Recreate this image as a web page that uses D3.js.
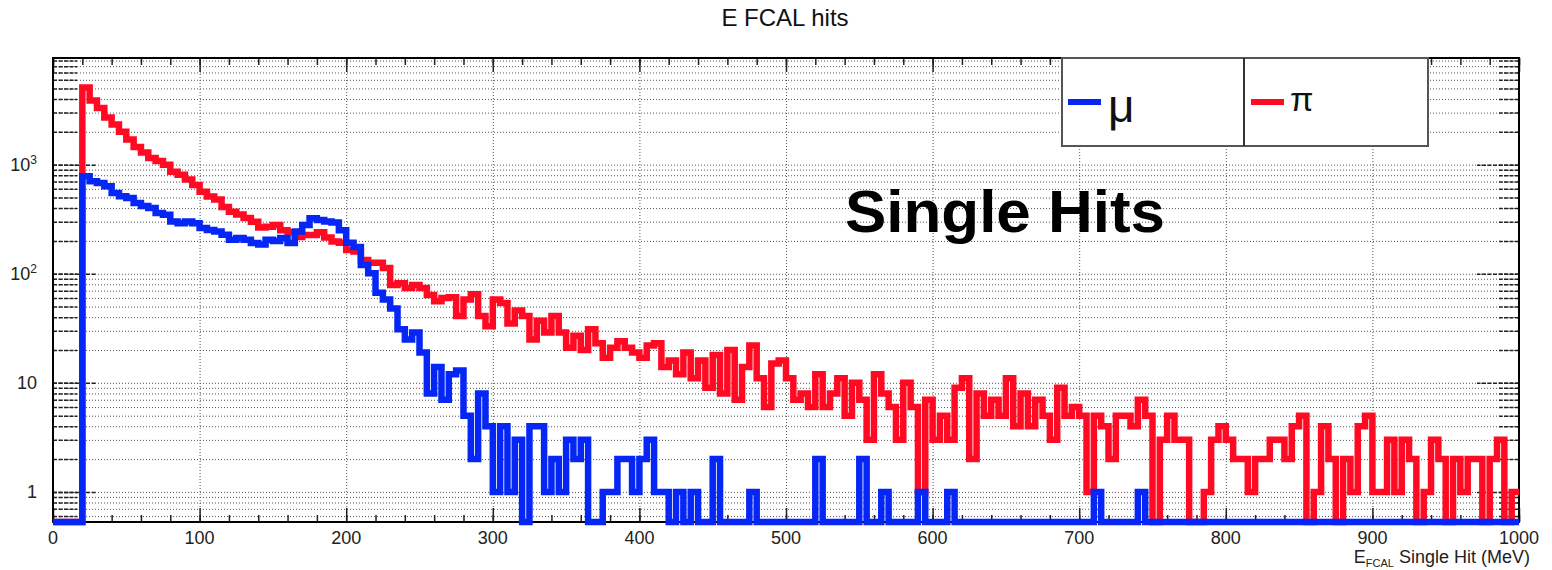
<!DOCTYPE html>
<html>
<head>
<meta charset="utf-8">
<script src="https://cdn.jsdelivr.net/npm/d3@7"></script>
<style>
  html, body { margin: 0; padding: 0; background: #fff; }
  svg { display: block; }
  text { font-family: "Liberation Sans", Arial, Helvetica, sans-serif; }
</style>
</head>
<body>
<svg id="chart" width="1552" height="570"></svg>
<script>
// ---------------- data ----------------
const binWidth = 5;          // MeV per bin
const xDomain = [0, 1000];
const yDomain = [0.53, 9500];
const xTickLabels = ["0","100","200","300","400","500","600","700","800","900","1000"];
const yTickValues = [1, 10, 100, 1000];
const yTickLabels = [["1",""],["10",""],["10","2"],["10","3"]];
const seriesNames = ["\u03bc", "\u03c0"];

// pi (red) counts per 5 MeV bin, 0..1000 MeV
const piCounts = [
  0,0,0,0,5100,3870,3300,2700,2340,2000,
  1700,1450,1290,1150,1080,1000,860,810,730,650,
  565,510,480,410,370,350,325,300,265,270,
  280,250,240,217,227,227,240,215,198,192,
  165,160,134,126,126,113,79,82,74,79,
  74,64,56,60,61,41,58,65,41,33,
  58,54,35,46,41,25,37,29,41,29,
  21,27,20,31,23,17,21,24,21,19,
  17,22,23,14,16,12,19,11,16,9,
  18,8,20,7,14,22,11,6,15,16,
  11,7,8,6,12,6,8,11,5,10,
  7,3,12,8,6,3,10,6,1,7,
  3,5,3,9,11,2,8,5,7,5,
  11,4,8,4,7,5,3,9,5,6,
  5,1,5,4,2,5,5,4,7,5,
  0,3,5,3,3,0,0,1,3,4,
  3,2,2,1,2,2,3,3,2,4,
  5,0,1,4,2,0,2,1,4,5,
  1,1,3,1,3,2,0,1,3,2,
  0,2,1,2,2,0,2,3,0,1
];

// mu (blue) counts per 5 MeV bin, 0..1000 MeV
const muCounts = [
  0,0,0,0,781,703,679,633,550,512,
  495,445,418,401,361,348,302,290,302,290,
  262,252,244,228,205,213,205,191,185,205,
  200,213,191,244,280,322,311,302,295,250,
  192,176,120,101,67,58,48,31,25,29,
  19,8,14,7,12,13,5,2,8,4,
  1,4,1,3,0,4,4,1,2,1,
  3,2,3,0,0,1,1,2,2,1,
  2,3,1,1,0,1,0,1,0,0,
  2,0,0,0,0,1,0,0,0,0,
  0,0,0,0,2,0,0,0,0,0,
  2,0,0,1,0,0,0,0,1,0,
  0,0,1,0,0,0,0,0,0,0,
  0,0,0,0,0,0,0,0,0,0,
  0,0,1,0,0,0,0,0,1,0,
  0,0,0,0,0,0,0,0,0,0,
  0,0,0,0,0,0,0,0,0,0,
  0,0,0,0,0,0,0,0,0,0,
  0,0,0,0,0,0,0,0,0,0,
  0,0,0,0,0,0,0,0,0,0
];

// ---------------- layout ----------------
const svg = d3.select("#chart");
const L = 53, R = 1519, T = 58, B = 522;
const x = d3.scaleLinear().domain(xDomain).range([L, R]);
const y = d3.scaleLog().domain(yDomain).range([B, T]);

// minor log values inside the domain
const logMinor = [];
for (let e = -1; e <= 3; e++) {
  for (let m = 1; m <= 9; m++) {
    const v = m * Math.pow(10, e);
    if (v >= yDomain[0] && v <= yDomain[1]) logMinor.push(v);
  }
}
const xMajor = d3.range(100, 1000, 100);
const xMinor = d3.range(0, 1001, 20);

// ---------------- grid ----------------
const grid = svg.append("g");
grid.append("g").attr("transform", `translate(${L},0)`)
  .call(d3.axisLeft(y).tickValues(logMinor).tickSize(-(R - L)).tickFormat(""))
  .call(g => g.select(".domain").remove())
  .selectAll("line").attr("stroke", "#555").attr("stroke-width", 1).attr("stroke-dasharray", "1,2");
grid.append("g").attr("transform", `translate(0,${B})`)
  .call(d3.axisBottom(x).tickValues(xMajor).tickSize(-(B - T)).tickFormat(""))
  .call(g => g.select(".domain").remove())
  .selectAll("line").attr("stroke", "#555").attr("stroke-width", 1).attr("stroke-dasharray", "1,2");

// ---------------- axes ticks ----------------
function tickStyle(sel) {
  sel.select(".domain").remove();
  sel.selectAll("line").attr("stroke", "#222").attr("stroke-width", 1.5);
}
// left minor/major ticks (inside)
svg.append("g").attr("transform", `translate(${L},0)`)
  .call(d3.axisLeft(y).tickValues(logMinor).tickSize(-24).tickFormat(""))
  .call(tickStyle).selectAll("line").attr("stroke-dasharray", "4,1.5");
svg.append("g").attr("transform", `translate(${L},0)`)
  .call(d3.axisLeft(y).tickValues(yTickValues).tickSize(-44).tickFormat(""))
  .call(tickStyle).selectAll("line").attr("stroke-dasharray", "4,1.5");
// right ticks
svg.append("g").attr("transform", `translate(${R},0)`)
  .call(d3.axisRight(y).tickValues(logMinor).tickSize(-20).tickFormat(""))
  .call(tickStyle).selectAll("line").attr("stroke-dasharray", "4,1.5");
svg.append("g").attr("transform", `translate(${R},0)`)
  .call(d3.axisRight(y).tickValues(yTickValues).tickSize(-42).tickFormat(""))
  .call(tickStyle).selectAll("line").attr("stroke-dasharray", "4,1.5");
// bottom / top ticks
svg.append("g").attr("transform", `translate(0,${B})`)
  .call(d3.axisBottom(x).tickValues(xMinor).tickSize(-7).tickFormat("")).call(tickStyle);
svg.append("g").attr("transform", `translate(0,${B})`)
  .call(d3.axisBottom(x).tickValues(d3.range(0, 1001, 100)).tickSize(-14).tickFormat("")).call(tickStyle);
svg.append("g").attr("transform", `translate(0,${T})`)
  .call(d3.axisTop(x).tickValues(xMinor).tickSize(-7).tickFormat("")).call(tickStyle);
svg.append("g").attr("transform", `translate(0,${T})`)
  .call(d3.axisTop(x).tickValues(d3.range(0, 1001, 100)).tickSize(-14).tickFormat("")).call(tickStyle);

// frame
svg.append("rect").attr("x", L).attr("y", T).attr("width", R - L).attr("height", B - T)
  .attr("fill", "none").attr("stroke", "#000").attr("stroke-width", 2);

// x labels
svg.append("g").selectAll("text").data(xTickLabels).join("text")
  .attr("x", d => x(+d)).attr("y", 544)
  .attr("text-anchor", "middle").attr("font-size", 18).attr("fill", "#222")
  .text(d => d);

// y labels
const yl = svg.append("g").selectAll("text").data(yTickValues).join("text")
  .attr("x", 37).attr("y", d => y(d) + 6)
  .attr("text-anchor", "end").attr("font-size", 18).attr("fill", "#222");
yl.each(function(d, i) {
  const t = d3.select(this);
  t.append("tspan").text(yTickLabels[i][0]);
  if (yTickLabels[i][1]) t.append("tspan").attr("dy", -7).attr("font-size", 12).text(yTickLabels[i][1]);
});

// ---------------- histograms ----------------
function histPoints(counts) {
  const pts = counts.map((v, i) => ({ e: i * binWidth, v }));
  pts.push({ e: counts.length * binWidth, v: counts[counts.length - 1] });
  return pts;
}
const yy = v => v > 0 ? y(v) : y(yDomain[0]);
const line = d3.line().x(d => x(d.e)).y(d => yy(d.v)).curve(d3.curveStepAfter);

svg.append("path").datum(histPoints(piCounts)).attr("d", line)
  .attr("fill", "none").attr("stroke", "#ff0a22").attr("stroke-width", 6.5)
  .attr("stroke-linejoin", "miter");
svg.append("path").datum(histPoints(muCounts)).attr("d", line)
  .attr("fill", "none").attr("stroke", "#0526f5").attr("stroke-width", 6.5)
  .attr("stroke-linejoin", "miter");

// ---------------- legend ----------------
const lg = svg.append("g");
lg.append("rect").attr("x", 1062).attr("y", 58).attr("width", 366).attr("height", 88)
  .attr("fill", "#fff").attr("stroke", "#555").attr("stroke-width", 2);
lg.append("line").attr("x1", 1244).attr("x2", 1244).attr("y1", 58).attr("y2", 146)
  .attr("stroke", "#333").attr("stroke-width", 2);
const legendItems = [
  { name: seriesNames[0], color: "#0526f5", x0: 1068, tx: 1108, ty: 122, fs: 46 },
  { name: seriesNames[1], color: "#ff0a22", x0: 1251, tx: 1290, ty: 111, fs: 34 }
];
legendItems.forEach(d => {
  lg.append("line").attr("x1", d.x0).attr("x2", d.x0 + 33).attr("y1", 102).attr("y2", 102)
    .attr("stroke", d.color).attr("stroke-width", 6);
  lg.append("text").attr("x", d.tx).attr("y", d.ty)
    .attr("font-family", "'DejaVu Serif', 'Liberation Serif', serif")
    .attr("font-size", d.fs).attr("fill", "#111").text(d.name);
});

// ---------------- texts ----------------
svg.append("text").attr("x", 785).attr("y", 26).attr("text-anchor", "middle")
  .attr("font-size", 24).attr("fill", "#111").text("E FCAL hits");

const at = svg.append("text").attr("x", 1530).attr("y", 563).attr("text-anchor", "end")
  .attr("font-size", 18).attr("fill", "#222");
at.append("tspan").text("E");
at.append("tspan").attr("font-size", 11).attr("dy", 4).text("FCAL");
at.append("tspan").attr("dy", -4).text(" Single Hit (MeV)");

svg.append("text").attr("x", 845).attr("y", 232)
  .attr("font-family", "Lato, 'Open Sans', sans-serif").attr("font-weight", 700)
  .attr("font-size", 60).attr("fill", "#000")
  .attr("textLength", 320).attr("lengthAdjust", "spacingAndGlyphs")
  .text("Single Hits");
</script>
</body>
</html>
